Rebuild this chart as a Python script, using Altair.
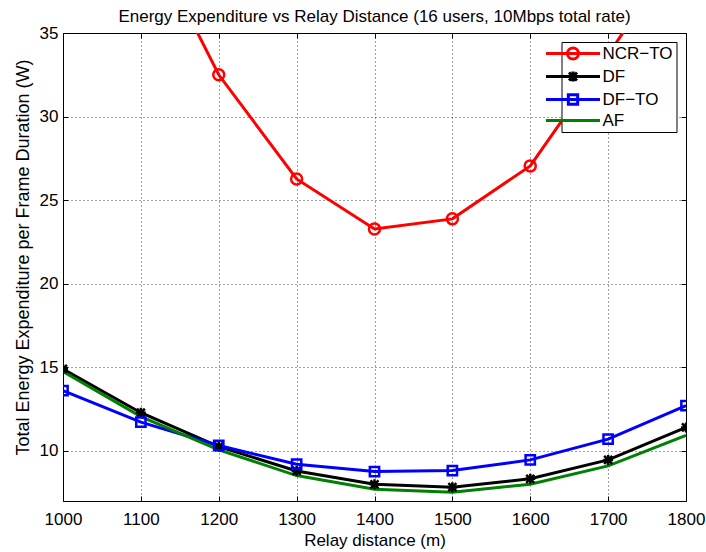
import altair as alt
import pandas as pd

# ---- data ----
distances = [1000, 1100, 1200, 1300, 1400, 1500, 1600, 1700, 1800]
series_names = ["NCR−TO", "DF", "DF−TO", "AF"]
ncr_to = [52.0, 41.7, 32.5, 26.27, 23.28, 23.88, 27.05, 33.7, 40.6]
df_vals = [14.9, 12.28, 10.25, 8.8, 8.0, 7.83, 8.33, 9.46, 11.4]
df_to = [13.6, 11.72, 10.32, 9.2, 8.76, 8.82, 9.46, 10.7, 12.71]
af = [14.74, 12.05, 10.06, 8.52, 7.71, 7.53, 8.0, 9.1, 10.92]
x_ticks = [1000, 1100, 1200, 1300, 1400, 1500, 1600, 1700, 1800]
y_ticks = [10, 15, 20, 25, 30, 35]
y_domain = [7, 35]
x_domain = [1000, 1800]

title_text = "Energy Expenditure vs Relay Distance (16 users, 10Mbps total rate)"
x_title = "Relay distance (m)"
y_title = "Total Energy Expenditure per Frame Duration (W)"

colors = ["#ff0000", "#000000", "#0000ff", "#008000"]
marker_names = ["NCR−TO", "DF", "DF−TO"]
marker_colors = ["#ff0000", "#000000", "#0000ff"]
circle_p = "M-1.1,0A1.1,1.1 0 1,0 1.1,0A1.1,1.1 0 1,0 -1.1,0Z"
star_p = "M-0.8,-0.8L0.8,0.8M0.8,-0.8L-0.8,0.8M0,-1L0,1M-1,0L1,0"
square_p = "M-0.93,-0.93L0.93,-0.93L0.93,0.93L-0.93,0.93Z"
line_p = "M-7.6,0M-5.4,0L5.4,0"
marker_shapes = [circle_p, star_p, square_p]
legend_shapes = [line_p + circle_p, line_p + star_p, line_p + square_p, line_p]

rows = []
for name, vals in zip(series_names, [ncr_to, df_vals, df_to, af]):
    for d, v in zip(distances, vals):
        rows.append({"distance": d, "energy": v, "series": name})
data = pd.DataFrame(rows)

font = "Liberation Sans"
fs = 17
xscale = alt.Scale(domain=x_domain, nice=False, zero=False)
yscale = alt.Scale(domain=y_domain, nice=False, zero=False)
grid = dict(grid=True, gridColor="#000000", gridDash=[1, 3], gridOpacity=0.75, gridWidth=1)
tick = dict(ticks=True, tickSize=5, tickColor="#000000", tickWidth=1, offset=-5, domain=False)

lines = alt.Chart(data).mark_line(strokeWidth=3, clip=True).encode(
    x=alt.X("distance:Q", scale=xscale, axis=alt.Axis(
        orient="bottom", values=x_ticks, format="d", labelPadding=10,
        labelFont=font, labelFontSize=fs, labelColor="#000000",
        labelFlush=False, labelOverlap=False, labelBound=False,
        title=x_title, titleFont=font, titleFontSize=fs, titleFontWeight="normal",
        titleColor="#000000", titleY=49, titleBaseline="alphabetic",
        **tick, **grid)),
    y=alt.Y("energy:Q", scale=yscale, axis=alt.Axis(
        orient="left", values=y_ticks, format="d", labelPadding=5,
        labelFont=font, labelFontSize=fs, labelColor="#000000",
        labelFlush=False, labelOverlap=False, labelBound=False,
        title=y_title, titleFont=font, titleFontSize=18, titleFontWeight="normal",
        titleColor="#000000", titleX=-39.5, titleY=224, titleBaseline="alphabetic",
        **tick, **grid)),
    color=alt.Color("series:N", scale=alt.Scale(domain=series_names, range=colors), legend=None),
)

markers = alt.Chart(data).transform_filter(alt.datum.series != "AF").mark_point(
    filled=False, strokeWidth=2.5, size=100, opacity=1, clip=True
).encode(
    x=alt.X("distance:Q", scale=xscale, axis=alt.Axis(
        orient="top", values=x_ticks, labels=False, grid=False, title=None, **tick)),
    y=alt.Y("energy:Q", scale=yscale, axis=alt.Axis(
        orient="right", values=y_ticks, labels=False, grid=False, title=None, **tick)),
    color=alt.Color("series:N", scale=alt.Scale(domain=marker_names, range=marker_colors), legend=None),
    shape=alt.Shape("series:N", scale=alt.Scale(domain=marker_names, range=marker_shapes), legend=None),
)

legend_layer = alt.Chart(data).mark_point(
    filled=False, strokeWidth=3, size=100, opacity=0, clip=True
).encode(
    x=alt.X("distance:Q", scale=xscale, axis=None),
    y=alt.Y("energy:Q", scale=yscale, axis=None),
    color=alt.Color("series:N", scale=alt.Scale(domain=series_names, range=colors),
                    legend=alt.Legend(
                        title=None, orient="none", legendX=498.5, legendY=9, padding=3,
                        fillColor="#ffffff", strokeColor="#000000", symbolSize=100,
                        symbolStrokeWidth=3, symbolOpacity=1, labelFont=font,
                        labelFontSize=fs, labelColor="#000000", labelOffset=21,
                        rowPadding=0)),
    shape=alt.Shape("series:N", scale=alt.Scale(domain=series_names, range=legend_shapes)),
)

chart = alt.layer(lines, markers, legend_layer).resolve_scale(
    color="independent", shape="independent"
).resolve_axis(
    x="independent", y="independent"
).properties(
    width=623, height=468,
    autosize=alt.AutoSizeParams(type="none"),
    padding={"left": 63, "top": 33, "right": 20, "bottom": 51},
    title=alt.Title(title_text, font=font, fontSize=fs, fontWeight="normal",
                    color="#000000", offset=8, dy=10, frame="group"),
).configure_view(stroke="#000000", strokeWidth=1)

chart.save("out.html", embed_options={"renderer": "svg", "actions": False})
